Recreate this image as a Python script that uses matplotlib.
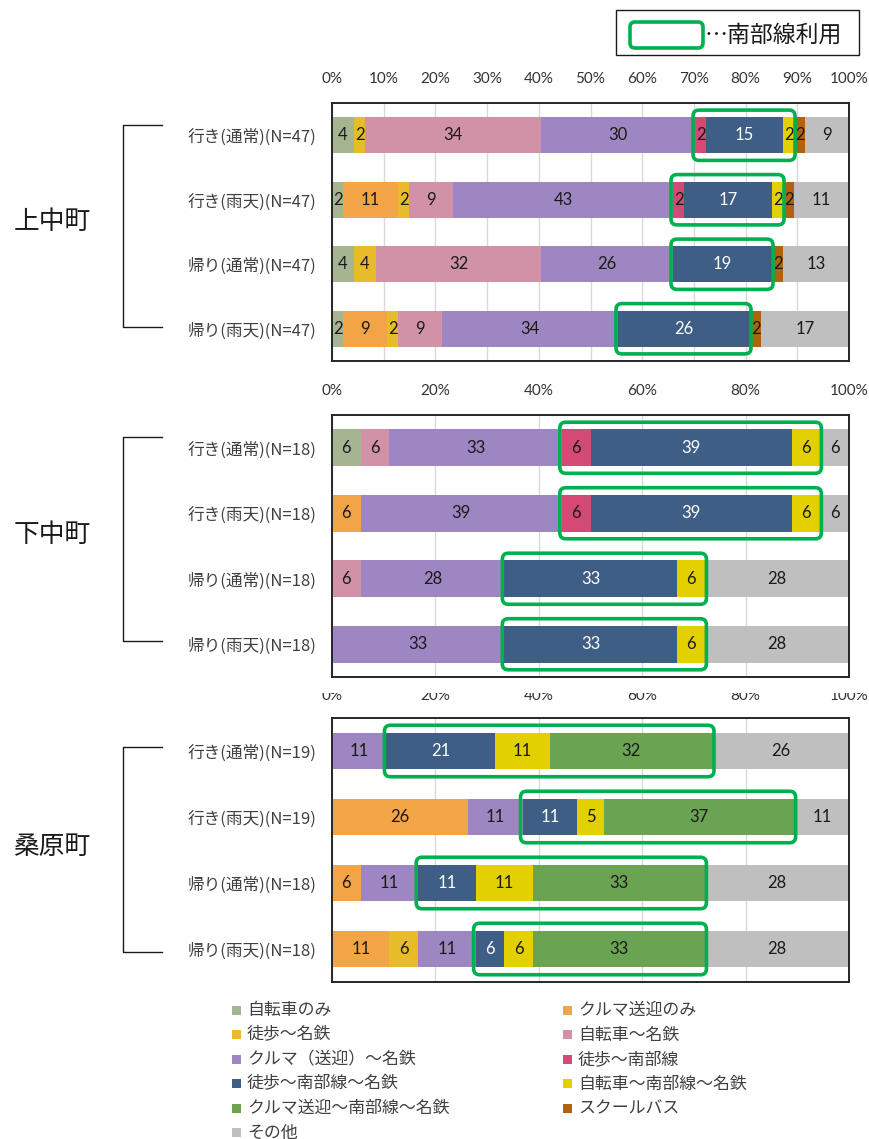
import matplotlib
matplotlib.use("Agg")
import matplotlib.pyplot as plt
import numpy as np
from matplotlib.patches import FancyBboxPatch, Rectangle
from matplotlib.transforms import IdentityTransform
from matplotlib.lines import Line2D

JP = ['Noto Sans CJK JP', 'DejaVu Sans']
NUM = ['Lato', 'DejaVu Sans']
plt.rcParams['font.family'] = JP

# ---------------- data ----------------
categories = ['自転車のみ', 'クルマ送迎のみ', '徒歩〜名鉄', '自転車〜名鉄',
              'クルマ（送迎）〜名鉄', '徒歩〜南部線', '徒歩〜南部線〜名鉄',
              '自転車〜南部線〜名鉄', 'クルマ送迎〜南部線〜名鉄', 'スクールバス', 'その他']
colors = ['#A5B592', '#F3A447', '#E8BB2A', '#D191A6', '#9E86C2', '#D44A74',
          '#3E5E86', '#E2D000', '#6AA453', '#B1620F', '#BFBFBF']

towns = ['上中町', '下中町', '桑原町']

kaminaka_rows = ['行き(通常)(N=47)', '行き(雨天)(N=47)', '帰り(通常)(N=47)', '帰り(雨天)(N=47)']
kaminaka_vals = [
    [4.26, 0, 2.13, 34.04, 29.79, 2.13, 14.89, 2.13, 0, 2.13, 8.51],
    [2.13, 10.64, 2.13, 8.51, 42.55, 2.13, 17.02, 2.13, 0, 2.13, 10.64],
    [4.26, 0, 4.26, 31.91, 25.53, 0, 19.15, 0, 0, 2.13, 12.77],
    [2.13, 8.51, 2.13, 8.51, 34.04, 0, 25.53, 0, 0, 2.13, 17.02],
]

shimonaka_rows = ['行き(通常)(N=18)', '行き(雨天)(N=18)', '帰り(通常)(N=18)', '帰り(雨天)(N=18)']
shimonaka_vals = [
    [5.56, 0, 0, 5.56, 33.33, 5.56, 38.89, 5.56, 0, 0, 5.56],
    [0, 5.56, 0, 0, 38.89, 5.56, 38.89, 5.56, 0, 0, 5.56],
    [0, 0, 0, 5.56, 27.78, 0, 33.33, 5.56, 0, 0, 27.78],
    [0, 0, 0, 0, 33.33, 0, 33.33, 5.56, 0, 0, 27.78],
]

kuwabara_rows = ['行き(通常)(N=19)', '行き(雨天)(N=19)', '帰り(通常)(N=18)', '帰り(雨天)(N=18)']
kuwabara_vals = [
    [0, 0, 0, 0, 10.53, 0, 21.05, 10.53, 31.58, 0, 26.32],
    [0, 26.32, 0, 0, 10.53, 0, 10.53, 5.26, 36.84, 0, 10.53],
    [0, 5.56, 0, 0, 11.11, 0, 11.11, 11.11, 33.33, 0, 27.78],
    [0, 11.11, 5.56, 0, 11.11, 0, 5.56, 5.56, 33.33, 0, 27.78],
]

tick_steps = [10, 20, 20]
nanbu_first, nanbu_last = 5, 8   # categories that use the 南部線

# ---------------- layout ----------------
W, H = 869, 1139
fig = plt.figure(figsize=(W / 100, H / 100), dpi=100)

def fx(px):
    return px / W

def fy(py):
    return 1 - py / H

panel_px = [(103, 361), (415, 677), (718, 982)]
ax_left, ax_right = 332, 849
label_pads = [12.5, 12.0, 11.0]
bracket_px = [(125, 327), (437, 641), (747, 952)]
town_y = [222, 535, 847]

GREEN = '#00B050'
panels = [(kaminaka_rows, kaminaka_vals), (shimonaka_rows, shimonaka_vals),
          (kuwabara_rows, kuwabara_vals)]

for p, (rows, vals) in enumerate(panels):
    top, bot = panel_px[p]
    ax = fig.add_axes([fx(ax_left), fy(bot), fx(ax_right - ax_left), (bot - top) / H])
    vals = np.array(vals, dtype=float)
    y = np.arange(len(rows))
    left = np.zeros(len(rows))
    for c in range(len(categories)):
        bc = ax.barh(y, vals[:, c], left=left, height=0.56, color=colors[c],
                     edgecolor='none', zorder=2)
        labs = [f"{v:.0f}" if v > 0 else '' for v in vals[:, c]]
        ax.bar_label(bc, labels=labs, label_type='center', fontsize=12,
                     family=NUM, color='white' if c == 6 else '#1a1a1a', zorder=3)
        left = left + vals[:, c]
    ax.set_xlim(0, 100)
    ax.set_ylim(len(rows) - 0.5, -0.5)
    ticks = np.arange(0, 101, tick_steps[p])
    ax.set_xticks(ticks)
    ax.set_xticklabels([f"{t}%" for t in ticks], family=NUM, fontsize=11, color='#333333')
    ax.xaxis.tick_top()
    ax.tick_params(axis='x', length=0, pad=label_pads[p])
    ax.set_yticks(y)
    ax.set_yticklabels(rows, fontsize=12, color='#404040')
    ax.tick_params(axis='y', length=0, pad=11)
    ax.grid(axis='x', color='#D9D9D9', lw=1)
    ax.set_axisbelow(True)
    for s in ax.spines.values():
        s.set_color('#262626')
        s.set_linewidth(1.4)

    # green boxes around the 南部線 segments
    for r in range(len(rows)):
        start = vals[r, :nanbu_first].sum()
        end = vals[r, :nanbu_last + 1].sum()
        if end - start <= 0:
            continue
        (x0, y0) = ax.transData.transform((start, r + 0.39))
        (x1, y1) = ax.transData.transform((end, r - 0.39))
        box = FancyBboxPatch((x0 - 2, y0), (x1 - x0) + 3, (y1 - y0),
                             boxstyle='round,pad=0,rounding_size=6',
                             transform=IdentityTransform(), facecolor='none',
                             edgecolor=GREEN, lw=2.6, zorder=6)
        fig.add_artist(box)

    # bracket and town label
    b0, b1 = bracket_px[p]
    fig.add_artist(Line2D([fx(162), fx(123), fx(123), fx(162)],
                          [fy(b0), fy(b0), fy(b1), fy(b1)],
                          transform=fig.transFigure, color='#1a1a1a', lw=1.0))
    fig.text(fx(52), fy(town_y[p]), towns[p], fontsize=18.5, ha='center',
             va='center', color='#1a1a1a')

# the third panel's percent labels are partly hidden in the reference
fig.add_artist(Rectangle((fx(318), fy(693)), fx(869 - 318), (693 - 679) / H,
                         transform=fig.transFigure, facecolor='white',
                         edgecolor='none', zorder=8))

# top-right key
fig.add_artist(Rectangle((fx(616), fy(55)), fx(859 - 616), 45 / H,
                         transform=fig.transFigure, facecolor='white',
                         edgecolor='#1a1a1a', lw=1.0, zorder=5))
fig.add_artist(FancyBboxPatch((630, H - 48), 73, 26,
                              boxstyle='round,pad=0,rounding_size=5',
                              transform=IdentityTransform(), facecolor='none',
                              edgecolor=GREEN, lw=2.6, zorder=6))
fig.text(fx(705), fy(35), '…南部線利用', fontsize=16.5, ha='left', va='center',
         color='#1a1a1a', zorder=7)

# bottom legend
for i, (cat, col) in enumerate(zip(categories, colors)):
    row, colm = divmod(i, 2)
    xm = 232 if colm == 0 else 563
    yc = 1010 + row * 24.5
    fig.add_artist(Rectangle((fx(xm), fy(yc + 4.5)), fx(9), 9 / H,
                             transform=fig.transFigure, facecolor=col,
                             edgecolor='none'))
    fig.text(fx(xm + 15), fy(yc), cat, fontsize=12.2, ha='left', va='center',
             color='#404040')

fig.savefig('out.png', dpi=100)
